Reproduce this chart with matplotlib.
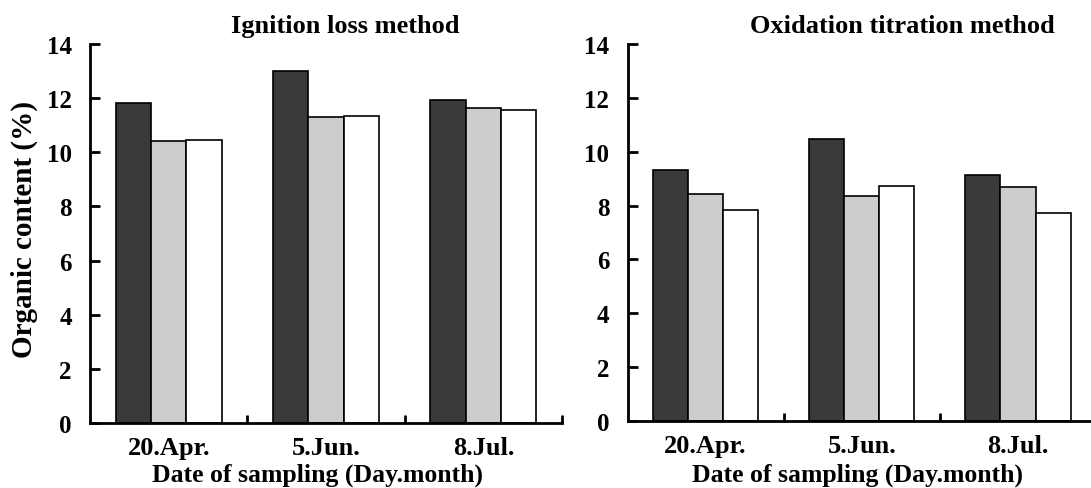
import matplotlib.pyplot as plt
import numpy as np

plt.rcParams['font.family'] = ['Liberation Serif', 'DejaVu Serif']
plt.rcParams['font.weight'] = 'bold'

dates = ['20.Apr.', '5.Jun.', '8.Jul.']

# ignition loss method (%)
ign_dark = [11.82, 13.00, 11.92]
ign_gray = [10.43, 11.30, 11.62]
ign_white = [10.44, 11.33, 11.57]

# oxidation titration method (%)
oxi_dark = [9.31, 10.47, 9.15]
oxi_gray = [8.42, 8.36, 8.70]
oxi_white = [7.82, 8.74, 7.74]

yticks = [0, 2, 4, 6, 8, 10, 12, 14]

bar_colors = ['#3a3a3a', '#cdcdcd', '#ffffff']
fs = 19


def draw_panel(ax, series):
    x = np.arange(len(dates))
    w = 0.225
    for i, vals in enumerate(series):
        ax.bar(x + (i - 1) * w, vals, width=w, color=bar_colors[i],
               edgecolor='black', linewidth=1.2, zorder=2)

    ax.set_xlim(-0.5, len(dates) - 0.5)
    ax.set_ylim(0, 14)
    ax.set_yticks(yticks)
    ax.set_xticks(x)
    ax.set_xticklabels(dates)
    ax.set_xticks(np.arange(len(dates)) + 0.5, minor=True)

    ax.spines['top'].set_visible(False)
    ax.spines['right'].set_visible(False)
    ax.spines['left'].set_linewidth(2)
    ax.spines['bottom'].set_linewidth(2)
    ax.spines['bottom'].set_clip_on(False)

    ax.tick_params(axis='y', direction='in', length=7, width=2, pad=13, labelsize=18)
    ax.tick_params(axis='x', which='major', length=0, pad=9, labelsize=fs)
    ax.tick_params(axis='x', which='minor', direction='in', length=6, width=2)
    for lab in ax.get_xticklabels() + ax.get_yticklabels():
        lab.set_fontweight('bold')


fig = plt.figure(figsize=(10.91, 4.89), dpi=100)

ax1 = fig.add_axes([0.0825, 0.1329, 0.4326, 0.775])
ax2 = fig.add_axes([0.5752, 0.137, 0.4294, 0.771])
ax2.set_zorder(-1)

draw_panel(ax1, [ign_dark, ign_gray, ign_white])
draw_panel(ax2, [oxi_dark, oxi_gray, oxi_white])

fig.text(345 / 1091, 1 - 33 / 489, 'Ignition loss method', ha='center',
         va='baseline', fontsize=fs, fontweight='bold')
fig.text(902 / 1091, 1 - 33 / 489, 'Oxidation titration method', ha='center',
         va='baseline', fontsize=fs, fontweight='bold')

fig.text(318 / 1091, 1 - 482 / 489, 'Date of sampling (Day.month)', ha='center',
         va='baseline', fontsize=18.5, fontweight='bold')
fig.text(857 / 1091, 1 - 482 / 489, 'Date of sampling (Day.month)', ha='center',
         va='baseline', fontsize=18.5, fontweight='bold')

fig.text(24 / 1091, 1 - 229 / 489, 'Organic content (%)', ha='center', va='center',
         rotation=90, fontsize=21, fontweight='bold')

fig.savefig('out.png', dpi=100)
